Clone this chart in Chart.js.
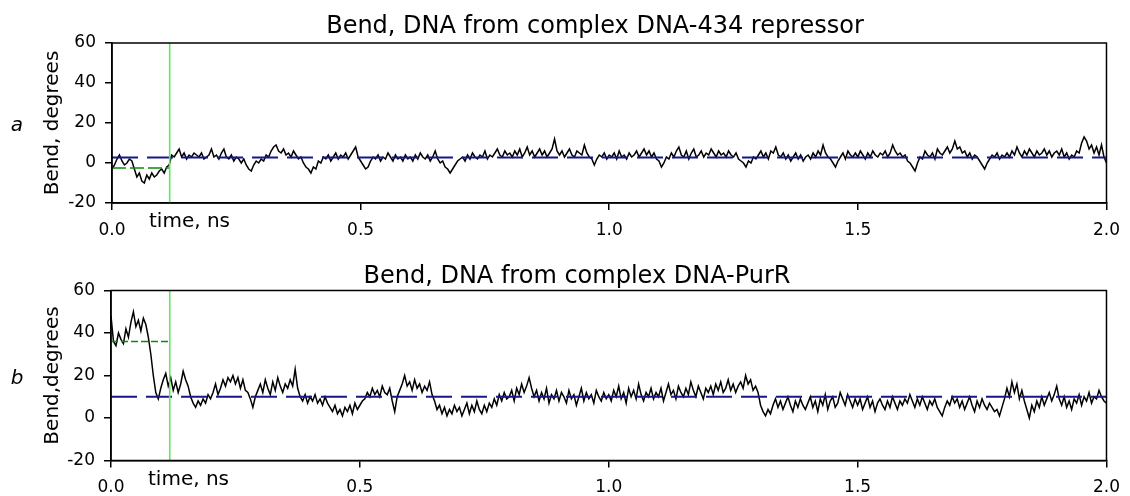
<!DOCTYPE html>
<html>
<head>
<meta charset="utf-8">
<title>Bend, DNA</title>
<script src="https://cdn.jsdelivr.net/npm/chart.js@4.4.1/dist/chart.umd.min.js"></script>
<style>
  html, body { margin: 0; padding: 0; background: #fff; }
  #wrap { position: relative; width: 1130px; height: 496px; }
  canvas { position: absolute; left: 0; }
  #panelA { top: 0; }
  #panelB { top: 248px; }
</style>
</head>
<body>
<div id="wrap">
  <canvas id="panelA" width="1130" height="248"></canvas>
  <canvas id="panelB" width="1130" height="248"></canvas>
</div>
<script>
// time axis: one sample every 0.005 ns, 0.0 .. 2.0
const timeStep = 0.005;
const xTicks = [0, 0.5, 1.0, 1.5, 2.0];
const yTicks = [-20, 0, 20, 40, 60];

const titles = ['Bend, DNA from complex DNA-434 repressor', 'Bend, DNA from complex DNA-PurR'];
const panelLetters = ['a', 'b'];
const yTitles = ['Bend, degrees', 'Bend,degrees'];
const xTitle = 'time, ns';

// green marker: end of the first stretch, and its mean bend
const switchTime = [0.116, 0.118];
const earlyMean = [-2.5, 36];
// blue dashed: mean bend over the rest of the run
const lateMean = [2.7, 10];

// bend (degrees), DNA-434 repressor complex
const bendA = [
  -3, -1, 2, 4, 1, -1, 0, 2, 1, -3, -7, -5, -9, -10, -6, -8, -5, -7, -6, -4,
  -3, -5, -2, -1, 4, 3, 5, 7, 3, 5, 2, 4, 3, 5, 4, 3, 5, 2, 3, 4,
  7, 3, 4, 2, 5, 7, 3, 2, 4, 1, 3, 2, 0, 2, -1, -3, -4, -1, 1, 0,
  2, 1, 4, 3, 6, 8, 9, 6, 5, 7, 4, 5, 3, 6, 4, 2, 3, 0, -2, -3,
  -5, -2, -3, 1, 0, 3, 2, 4, 1, 3, 5, 2, 4, 3, 5, 2, 4, 6, 8, 3,
  1, -1, -3, -2, 1, 3, 2, 4, 1, 3, 2, 5, 3, 1, 4, 2, 3, 1, 4, 2,
  3, 1, 4, 2, 5, 3, 2, 4, 1, 3, 6, 2, 0, 1, -2, -3, -5, -3, -1, 1,
  2, 3, 1, 4, 2, 5, 3, 2, 4, 3, 6, 2, 4, 3, 5, 7, 4, 3, 6, 4,
  5, 3, 6, 4, 7, 3, 5, 8, 4, 6, 3, 5, 7, 4, 6, 3, 5, 7, 12, 6,
  4, 6, 3, 5, 7, 4, 3, 6, 5, 4, 9, 5, 3, 2, -1, 2, 4, 3, 5, 2,
  4, 3, 5, 2, 6, 3, 4, 2, 5, 3, 4, 6, 3, 5, 7, 4, 6, 3, 5, 2,
  1, -2, 0, 3, 2, 5, 3, 6, 8, 4, 3, 6, 2, 5, 7, 3, 4, 6, 3, 5,
  4, 7, 5, 3, 6, 4, 5, 3, 6, 4, 3, 5, 2, 1, 0, -2, 1, 0, 3, 2,
  4, 6, 3, 5, 2, 6, 5, 8, 4, 3, 5, 2, 4, 1, 3, 5, 2, 4, 1, 3,
  4, 2, 5, 3, 6, 4, 9, 5, 3, 2, 0, -2, 1, 3, 5, 2, 6, 4, 3, 5,
  3, 6, 4, 2, 5, 3, 6, 4, 3, 5, 4, 6, 3, 5, 9, 6, 4, 5, 3, 4,
  1, 0, -2, -4, 0, 3, 2, 6, 4, 3, 5, 2, 7, 5, 4, 6, 8, 5, 7, 11,
  7, 8, 5, 6, 3, 5, 2, 4, 3, 1, -1, -3, 0, 2, 4, 3, 5, 2, 4, 3,
  5, 3, 6, 4, 8, 5, 3, 6, 4, 7, 5, 3, 6, 4, 5, 7, 4, 6, 3, 5,
  6, 4, 7, 3, 5, 2, 4, 3, 6, 5, 10, 13, 11, 7, 9, 5, 8, 4, 9, 3,
  0
];

// bend (degrees), DNA-PurR complex
const bendB = [
  48, 36, 34, 40, 37, 35, 42, 38, 45, 50, 43, 46, 41, 47, 44, 38, 30, 20, 12, 9,
  14, 18, 21, 15, 19, 13, 17, 12, 16, 22, 18, 15, 10, 7, 5, 8, 6, 9, 7, 11,
  9, 12, 16, 11, 14, 18, 15, 19, 17, 20, 16, 19, 14, 18, 13, 12, 9, 5, 10, 13,
  16, 12, 18, 14, 11, 17, 13, 19, 15, 12, 16, 14, 18, 15, 23, 14, 10, 8, 11, 7,
  10, 8, 11, 7, 9, 6, 10, 7, 5, 3, 6, 2, 4, 1, 5, 3, 6, 2, 7, 4,
  6, 8, 9, 12, 10, 14, 11, 13, 10, 15, 12, 11, 14, 8, 3, 10, 13, 16, 20, 15,
  17, 13, 18, 14, 16, 12, 15, 13, 17, 11, 8, 4, 6, 2, 5, 1, 4, 2, 6, 3,
  5, 1, 4, 7, 2, 6, 3, 8, 4, 2, 6, 3, 7, 5, 9, 6, 11, 8, 12, 9,
  10, 13, 8, 14, 11, 16, 12, 15, 19, 14, 10, 13, 8, 12, 9, 14, 7, 11, 9, 13,
  8, 12, 10, 7, 13, 9, 11, 6, 10, 14, 8, 12, 9, 11, 7, 13, 10, 8, 12, 9,
  11, 8, 13, 10, 15, 9, 12, 7, 14, 10, 13, 9, 16, 11, 8, 12, 10, 14, 9, 12,
  10, 14, 8, 12, 16, 11, 13, 9, 15, 12, 10, 14, 11, 17, 13, 10, 15, 12, 9, 14,
  12, 15, 11, 16, 13, 17, 12, 14, 18, 13, 16, 12, 15, 17, 14, 20, 16, 18, 13, 15,
  12, 6, 3, 1, 4, 2, 6, 9, 5, 8, 4, 7, 10, 6, 3, 8, 5, 9, 6, 4,
  7, 10, 5, 8, 3, 9, 6, 11, 4, 8, 10, 5, 7, 12, 9, 6, 11, 8, 5, 9,
  6, 9, 4, 7, 10, 5, 8, 3, 7, 9, 6, 4, 8, 5, 10, 7, 4, 8, 6, 9,
  7, 11, 8, 5, 9, 6, 10, 7, 4, 8, 6, 9, 5, 3, 1, 5, 8, 6, 10, 7,
  9, 5, 8, 4, 7, 10, 6, 3, 8, 5, 9, 6, 4, 7, 5, 3, 4, 1, 5, 9,
  14, 10, 17, 12, 16, 9, 13, 8, 4, 0, 6, 3, 8, 5, 10, 6, 9, 12, 8, 11,
  15, 9, 6, 10, 5, 8, 4, 9, 7, 11, 6, 10, 8, 12, 7, 10, 9, 13, 10, 8,
  7
];

const FONT = 'DejaVu Sans';

// titles, panel letter, x title and the box round the plot
const panelText = {
  id: 'panelText',
  afterDraw(chart, args, o) {
    const { ctx, chartArea: a } = chart;
    ctx.save();
    ctx.fillStyle = '#000';
    ctx.font = `24px "${FONT}"`;
    ctx.textAlign = 'center';
    ctx.textBaseline = 'alphabetic';
    ctx.fillText(o.title, o.titleX, a.top - o.titleGap);

    ctx.font = `italic 20px "${FONT}"`;
    ctx.textBaseline = 'middle';
    ctx.fillText(o.letter, 17, (a.top + a.bottom) / 2 + 3);

    ctx.font = `20px "${FONT}"`;
    ctx.textAlign = 'left';
    ctx.fillText(xTitle, a.left + 37, a.bottom + 19);

    ctx.strokeStyle = '#000';
    ctx.lineWidth = 1.5;
    ctx.strokeRect(a.left, a.top, a.right - a.left, a.bottom - a.top);
    ctx.restore();
  }
};

function makeChart(canvasId, i, bend, box) {
  const trace = bend.map((v, k) => ({ x: k * timeStep, y: v }));
  const t0 = xTicks[0];
  const t1 = xTicks[xTicks.length - 1];

  return new Chart(document.getElementById(canvasId), {
    type: 'line',
    data: {
      datasets: [
        {
          data: trace,
          borderColor: '#000',
          borderWidth: 1.5,
          pointRadius: 0,
          order: 3,
        },
        {
          data: [{ x: t0, y: lateMean[i] }, { x: t1, y: lateMean[i] }],
          borderColor: '#17178a',
          borderWidth: 2,
          borderDash: [26, 9],
          pointRadius: 0,
          order: 2,
        },
        {
          data: [{ x: t0, y: earlyMean[i] }, { x: switchTime[i], y: earlyMean[i] }],
          borderColor: '#0b8a0b',
          borderWidth: 1.5,
          borderDash: box.greenDash,
          pointRadius: 0,
          order: 1,
        },
        {
          data: [{ x: switchTime[i], y: yTicks[0] }, { x: switchTime[i], y: yTicks[yTicks.length - 1] }],
          borderColor: '#5fe85f',
          borderWidth: 1.6,
          pointRadius: 0,
          order: 0,
        },
      ]
    },
    options: {
      responsive: false,
      devicePixelRatio: 1,
      animation: false,
      layout: { padding: { left: 0, right: box.right, top: box.top, bottom: 0 } },
      plugins: {
        legend: { display: false },
        tooltip: { enabled: false },
        panelText: { title: titles[i], titleX: box.titleX, titleGap: box.titleGap, letter: panelLetters[i] },
      },
      scales: {
        x: {
          type: 'linear',
          min: t0,
          max: t1,
          afterBuildTicks: s => { s.ticks = xTicks.map(v => ({ value: v })); },
          afterFit: s => { s.height = box.xHeight; },
          grid: { drawOnChartArea: false, drawTicks: true, tickLength: 7, color: '#000', lineWidth: 1.5 },
          border: { display: true, color: '#000', width: 1.5 },
          ticks: {
            color: '#000',
            font: { family: FONT, size: 17 },
            padding: 10,
            maxRotation: 0,
            autoSkip: false,
            callback: v => v.toFixed(1),
          },
        },
        y: {
          type: 'linear',
          min: yTicks[0],
          max: yTicks[yTicks.length - 1],
          afterBuildTicks: s => { s.ticks = yTicks.map(v => ({ value: v })); },
          afterFit: s => { s.width = box.yWidth; },
          grid: { drawOnChartArea: false, drawTicks: true, tickLength: 7, color: '#000', lineWidth: 1.5 },
          border: { display: true, color: '#000', width: 1.5 },
          ticks: { color: '#000', font: { family: FONT, size: 17 }, padding: 9 },
          title: {
            display: true,
            text: yTitles[i],
            color: '#000',
            font: { family: FONT, size: 20 },
            padding: { top: 41, bottom: 0 },
          },
        },
      },
    },
    plugins: [panelText],
  });
}

makeChart('panelA', 0, bendA, { top: 43, right: 14, yWidth: 112, xHeight: 45, titleX: 595, titleGap: 10, greenDash: [14, 4] });
makeChart('panelB', 1, bendB, { top: 42.5, right: 19, yWidth: 111, xHeight: 35.5, titleX: 577, titleGap: 7.5, greenDash: [7, 3] });
</script>
</body>
</html>
